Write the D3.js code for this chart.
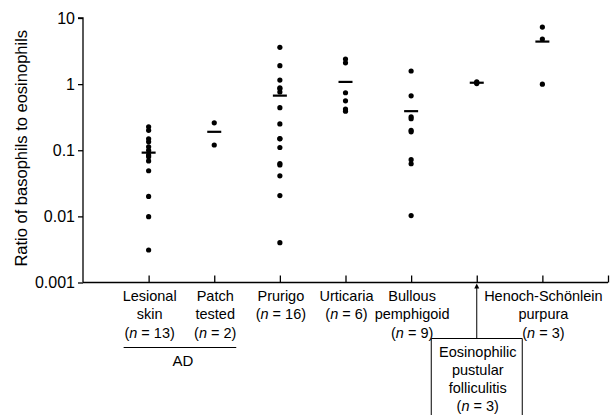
<!DOCTYPE html>
<html>
<head>
<meta charset="utf-8">
<script src="https://cdn.jsdelivr.net/npm/d3@7"></script>
<style>
  body { margin: 0; background: #fff; }
  svg { display: block; font-family: "Liberation Sans", Arial, sans-serif; }
</style>
</head>
<body>
<div id="chart"></div>
<script>
// Ratio of basophils to eosinophils per diagnosis (log scale, one column per group)
const groups = ["lesional", "patch", "prurigo", "urticaria", "bullous", "epf", "hsp"];

const lesionalValues = [0.226, 0.2, 0.149, 0.134, 0.113, 0.1, 0.085, 0.08, 0.069, 0.049, 0.020, 0.0099, 0.0031];
const patchValues = [0.26, 0.12];
const prurigoValues = [3.6, 1.9, 1.15, 0.88, 0.85, 0.76, 0.44, 0.25, 0.149, 0.11, 0.063, 0.06, 0.041, 0.0206, 0.004, 0.15];
const urticariaValues = [2.4, 2.1, 0.74, 0.56, 0.42, 0.39];
const bullousValues = [1.58, 0.665, 0.32, 0.30, 0.19, 0.072, 0.0625, 0.0103, 0.2];
const epfValues = [1.02, 1.05, 1.08];
const hspValues = [7.3, 4.8, 1.0];

const groupValues = [lesionalValues, patchValues, prurigoValues, urticariaValues, bullousValues, epfValues, hspValues];
const groupMeans = [0.092, 0.19, 0.67, 1.08, 0.39, 1.05, 4.4];

// x-axis labels, one array of lines per group ("n" gets italics)
const groupLabels = [
    ["Lesional", "skin", "(n = 13)"],
    ["Patch", "tested", "(n = 2)"],
    ["Prurigo", "(n = 16)"],
    ["Urticaria", "(n = 6)"],
    ["Bullous", "pemphigoid", "(n = 9)"],
    ["Eosinophilic", "pustular", "folliculitis", "(n = 3)"],
    ["Henoch-Schönlein", "purpura", "(n = 3)"]
];

const yTicks = [0.001, 0.01, 0.1, 1, 10];
const yTickLabels = ["0.001", "0.01", "0.1", "1", "10"];
const yTitle = "Ratio of basophils to eosinophils";
const bracketLabel = "AD";

const width = 610, height = 415;
const margin = { top: 18, right: 2, bottom: 132, left: 83 };

const svg = d3.select("#chart").append("svg")
    .attr("width", width)
    .attr("height", height);

const x = d3.scaleLinear()
    .domain([0, groups.length + 1])
    .range([margin.left, width - margin.right]);

const y = d3.scaleLog()
    .domain([0.001, 10])
    .range([height - margin.bottom - 0.5, margin.top]);

const y0 = y(0.001);

// y axis
const yAxis = svg.append("g")
    .attr("transform", `translate(${margin.left},0)`)
    .call(d3.axisLeft(y).tickValues(yTicks).tickSize(5).tickPadding(3)
        .tickFormat((d, i) => yTickLabels[i]));
yAxis.select(".domain").attr("stroke-width", 1.3).attr("d", `M-5,${margin.top}H0V${y0}`);
yAxis.selectAll("line").attr("stroke-width", 1.3);
yAxis.selectAll("text").attr("font-size", 16).attr("font-family", null).attr("fill", "#000");

// x axis with inward ticks at each group and at the end
const xAxis = svg.append("g")
    .attr("transform", `translate(0,${y0})`)
    .call(d3.axisBottom(x).tickValues(d3.range(1, groups.length + 2)).tickSize(-7).tickFormat(""));
xAxis.select(".domain").attr("stroke-width", 1.3).attr("d", `M${margin.left},0H${x(groups.length + 1)}`);
xAxis.selectAll("line").attr("stroke-width", 1.3);

svg.append("text")
    .attr("transform", `translate(27,${(margin.top + y0) / 2 - 2}) rotate(-90)`)
    .attr("text-anchor", "middle")
    .attr("font-size", 16.5)
    .text(yTitle);

// points
groupValues.forEach((vals, i) => {
    svg.append("g").selectAll("circle")
        .data(vals)
        .join("circle")
        .attr("cx", x(i + 1))
        .attr("cy", d => y(d))
        .attr("r", 2.6)
        .attr("fill", "#000");
});

// mean bars
svg.append("g").selectAll("line")
    .data(groupMeans)
    .join("line")
    .attr("x1", (d, i) => x(i + 1) - 7)
    .attr("x2", (d, i) => x(i + 1) + 7)
    .attr("y1", d => y(d))
    .attr("y2", d => y(d))
    .attr("stroke", "#000")
    .attr("stroke-width", 2.2);

// category labels
function writeLines(sel, lines, lineH) {
    lines.forEach((ln, j) => {
        const t = sel.append("tspan").attr("x", 0).attr("dy", j === 0 ? 0 : lineH);
        const m = ln.match(/^\((n)( = .*)\)$/);
        if (m) {
            t.text("(");
            sel.append("tspan").attr("font-style", "italic").text("n");
            sel.append("tspan").text(m[2] + ")");
        } else {
            t.text(ln);
        }
    });
}

const epfIndex = groups.indexOf("epf");
groupLabels.forEach((lines, i) => {
    if (i === epfIndex) return;
    const g = svg.append("text")
        .attr("transform", `translate(${x(i + 1) + 1},${y0 + 18})`)
        .attr("text-anchor", "middle")
        .attr("font-size", 14.5);
    writeLines(g, lines, 18.6);
});

// boxed label for EPF with arrow up to its tick
const ex = x(epfIndex + 1);
const boxTop = y0 + 56;
svg.append("path")
    .attr("d", `M${ex - 45.5},${height + 2}V${boxTop}H${ex + 45.5}V${height + 2}`)
    .attr("fill", "none")
    .attr("stroke", "#000")
    .attr("stroke-width", 1);
svg.append("line")
    .attr("x1", ex).attr("x2", ex)
    .attr("y1", boxTop).attr("y2", y0 + 4)
    .attr("stroke", "#000").attr("stroke-width", 1);
svg.append("path")
    .attr("d", `M${ex},${y0 + 1}l-2.5,5h5z`)
    .attr("fill", "#000");
const et = svg.append("text")
    .attr("transform", `translate(${ex + 1},${boxTop + 18})`)
    .attr("text-anchor", "middle")
    .attr("font-size", 14.5);
writeLines(et, groupLabels[epfIndex], 18.2);

// AD bracket under the two atopic dermatitis groups
const bx1 = x(1) - 25, bx2 = x(2) + 22;
svg.append("line")
    .attr("x1", bx1).attr("x2", bx2)
    .attr("y1", y0 + 65).attr("y2", y0 + 65)
    .attr("stroke", "#000").attr("stroke-width", 1);
svg.append("text")
    .attr("x", (bx1 + bx2) / 2 + 3)
    .attr("y", y0 + 83)
    .attr("text-anchor", "middle")
    .attr("font-size", 15)
    .text(bracketLabel);
</script>
</body>
</html>
